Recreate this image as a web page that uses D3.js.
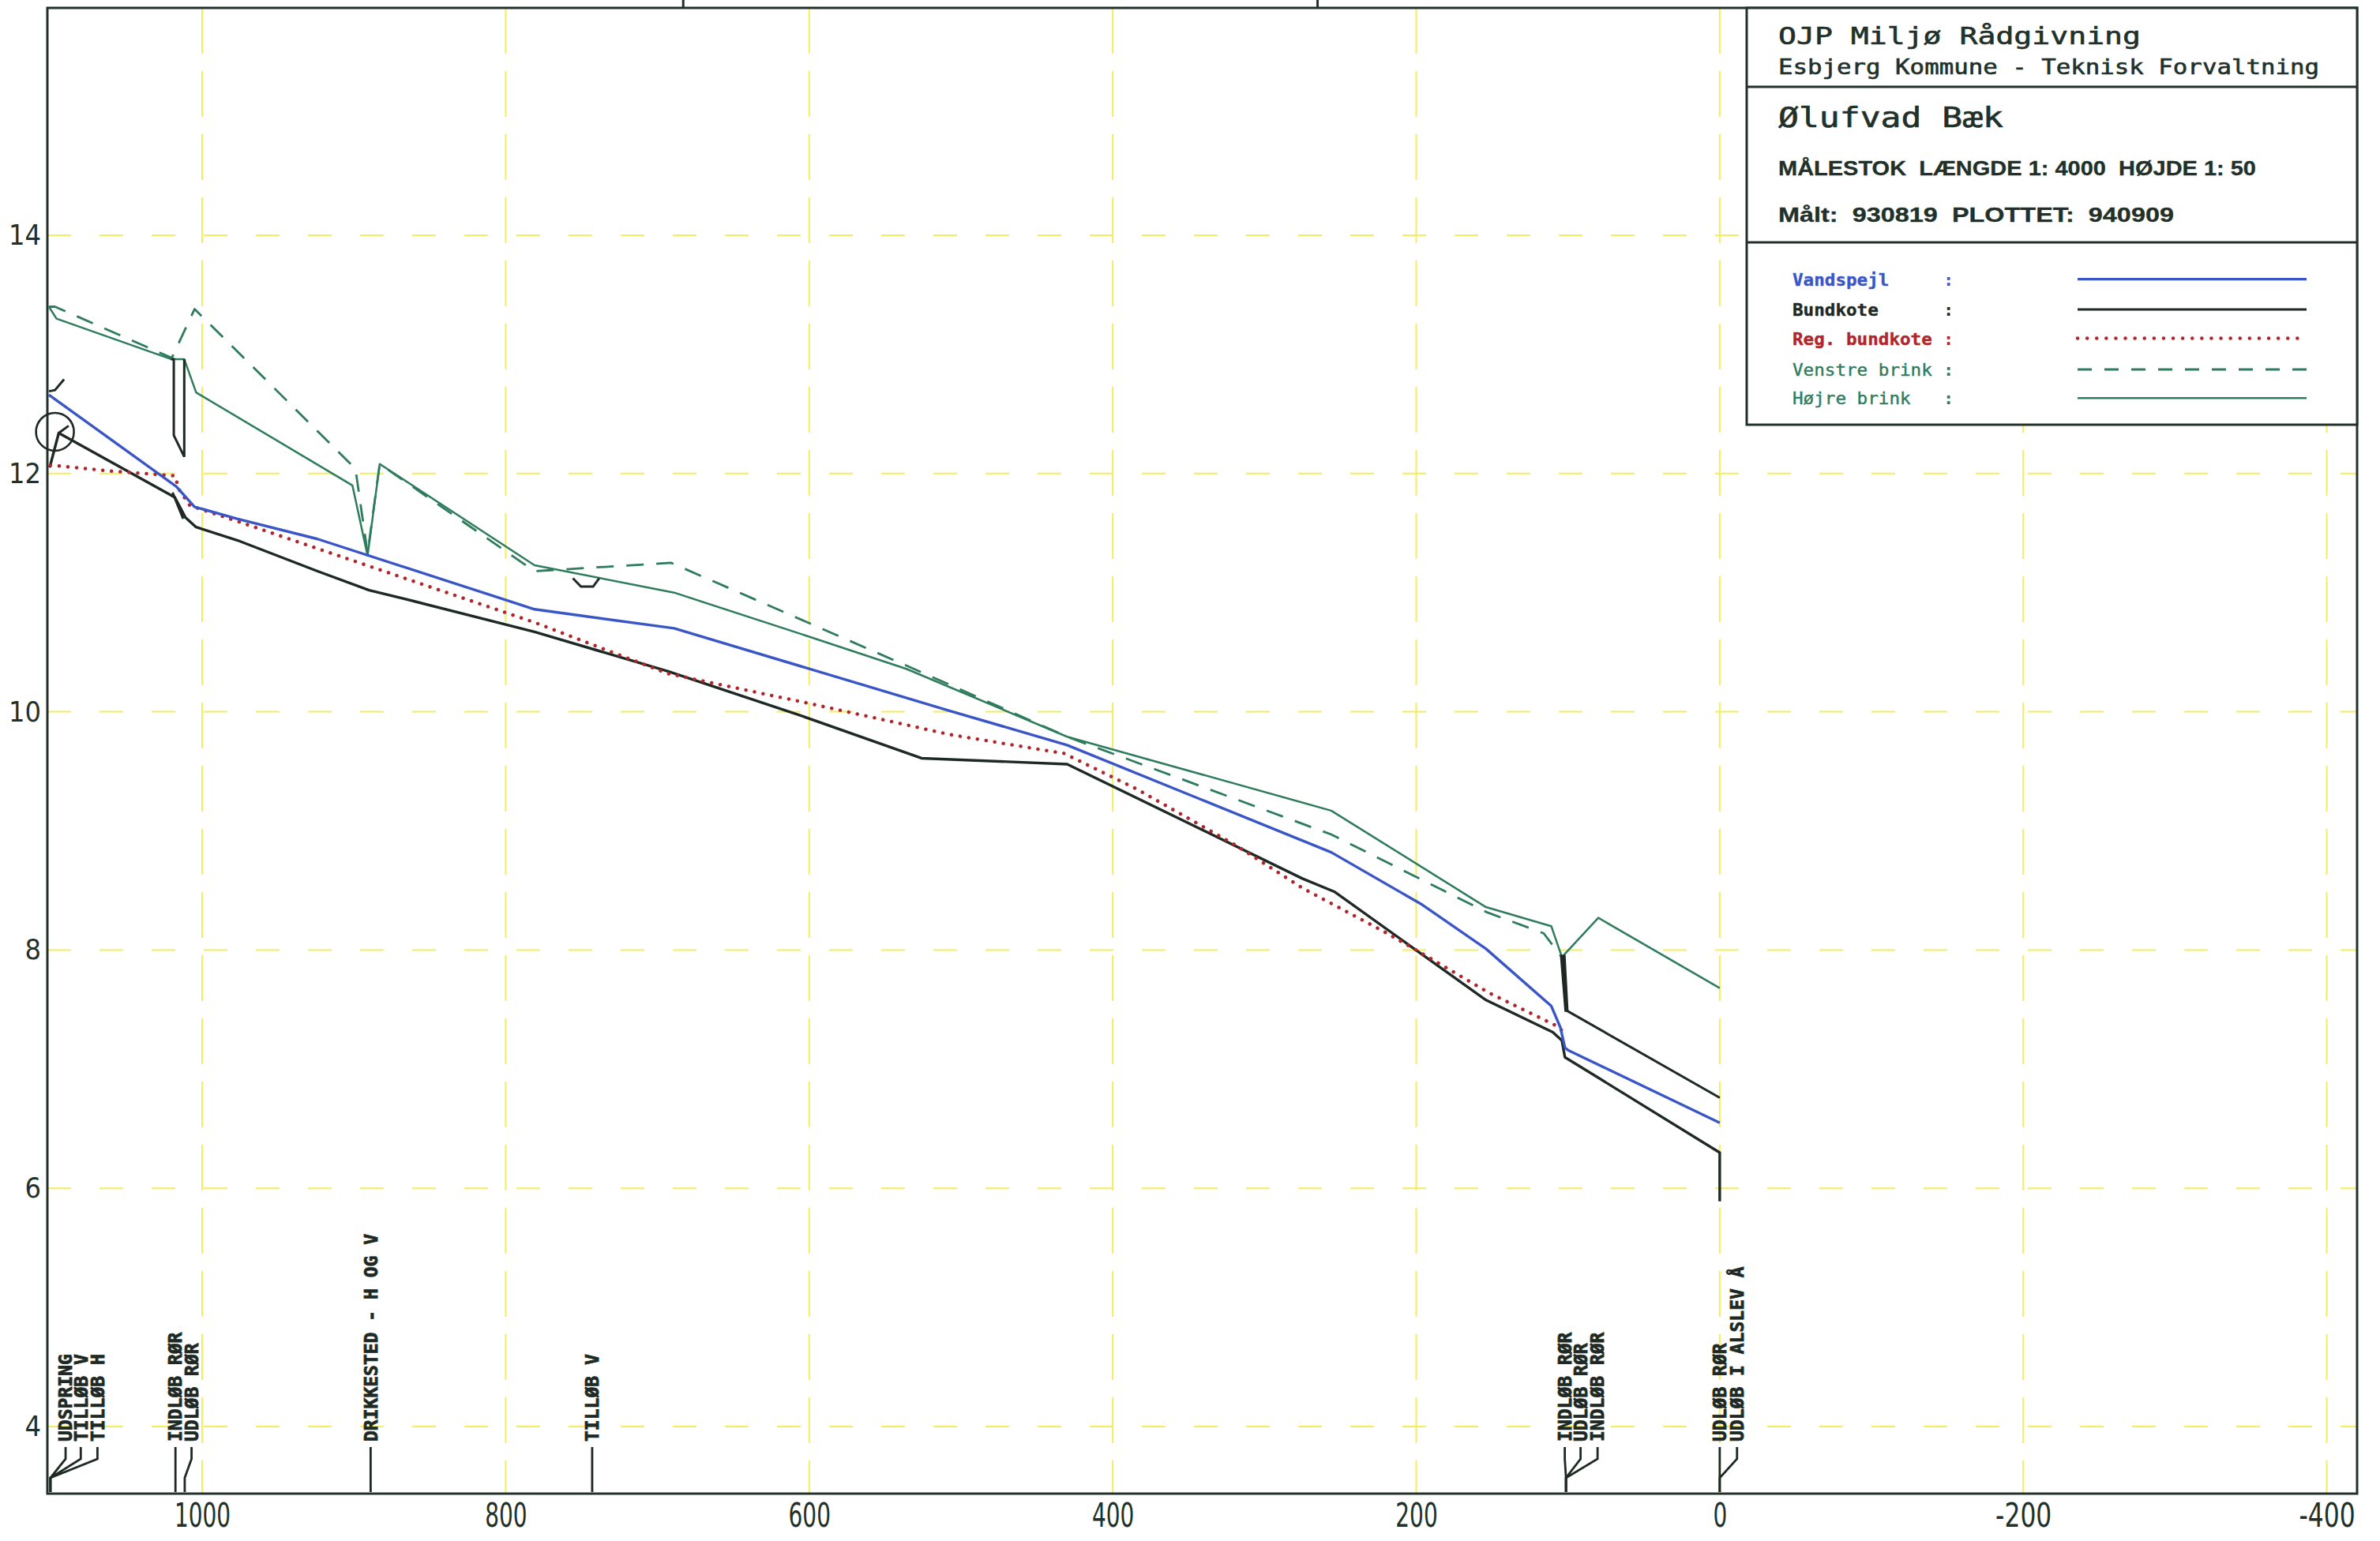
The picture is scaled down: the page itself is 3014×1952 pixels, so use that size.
<!DOCTYPE html>
<html><head><meta charset="utf-8">
<script src="https://cdn.jsdelivr.net/npm/d3@7"></script>
<style>
html,body{margin:0;padding:0;background:#fff;}
svg{display:block;}
text{white-space:pre;}
</style></head>
<body>
<svg id="c" width="3014" height="1952"></svg>
<script>
// ---------- data ----------
const xTicks = [1000, 800, 600, 400, 200, 0, -200, -400];
const yTicks = [14, 12, 10, 8, 6, 4];

const vandspejlX = [1101, 1017, 1005, 977, 924, 781, 689, 508, 430, 256, 196, 154, 111, 105, 102, 100, 0];
const vandspejlY = [12.66, 11.89, 11.72, 11.62, 11.45, 10.86, 10.70, 10.01, 9.72, 8.82, 8.38, 8.01, 7.53, 7.35, 7.18, 7.16, 6.55];

const bundkoteX = [1100.5, 1094.5, 1018, 1011, 1004, 977, 924, 890, 858, 781, 693, 606, 526, 430, 275, 254, 154, 110, 104, 102, 0, 0];
const bundkoteY = [12.05, 12.34, 11.80, 11.63, 11.55, 11.44, 11.18, 11.02, 10.92, 10.67, 10.34, 9.97, 9.61, 9.56, 8.60, 8.49, 7.58, 7.31, 7.24, 7.10, 6.30, 5.89];

const regBundX = [1100, 1060, 1018, 1015, 1008, 977, 924, 781, 693, 600, 536, 508, 432, 384, 319, 275, 222, 200, 152, 107, 102];
const regBundY = [12.07, 12.02, 11.98, 11.86, 11.73, 11.60, 11.37, 10.75, 10.32, 10.07, 9.89, 9.81, 9.65, 9.35, 8.88, 8.52, 8.16, 8.00, 7.64, 7.36, 7.30];

const venstreX = [1101, 1097, 1020, 1005, 899, 891, 883, 781, 691, 540, 508, 430, 256, 154, 116, 104];
const venstreY = [13.40, 13.40, 12.97, 13.38, 12.04, 11.33, 12.08, 11.18, 11.25, 10.41, 10.23, 9.79, 8.97, 8.32, 8.14, 7.94];

const hojreX = [1101, 1096, 1020.5, 1011.8, 1004, 901, 891, 883, 781, 689, 600, 536, 430, 256, 154, 111, 104, 80, 0];
const hojreY = [13.40, 13.30, 12.96, 12.96, 12.68, 11.90, 11.31, 12.08, 11.23, 11.00, 10.63, 10.36, 9.79, 9.17, 8.36, 8.20, 7.94, 8.27, 7.68];

// culvert / structure symbols
const pipeAX = [1020.5, 1018.7, 1018.7, 1011.8, 1011.8];
const pipeAY = [12.96, 12.96, 12.32, 12.14, 12.96];
const pipeBX = [1019.5, 1012.5];
const pipeBY = [11.84, 11.62];
const pipeCX = [104.5, 102.3, 100.4, 101.6];
const pipeCY = [7.95, 7.95, 7.49, 7.49];
const pipeDX = [100.6, 0];
const pipeDY = [7.49, 6.76];
const hookX = [1101, 1097, 1091];
const hookY = [12.69, 12.70, 12.79];
const sourceTickX = [1094.5, 1088];
const sourceTickY = [12.34, 12.40];
const notchX = [755.7, 750.4, 742.4, 738.4];
const notchY = [11.12, 11.05, 11.05, 11.12];
const sourceCircleX = [1097];
const sourceCircleY = [12.35];

const markerLabels = ["UDSPRING", "TILLØB V", "TILLØB H", "INDLØB RØR", "UDLØB RØR", "DRIKKESTED - H OG V", "TILLØB V", "INDLØB RØR", "UDLØB RØR", "INDLØB RØR", "UDLØB RØR", "UDLØB I ALSLEV Å"];
const markerTextX = [1090, 1080, 1069, 1017.6, 1007, 889, 743, 102.1, 91.7, 80.5, 0, -11.4];
const markerBaseX = [1100, 1100, 1100, 1017.6, 1011.5, 889, 743, 101.3, 101.3, 101.3, 0, 0];

const sheetMarks = [683, 265];

const legendNames = ["Vandspejl", "Bundkote", "Reg. bundkote", "Venstre brink", "Højre brink"];

// ---------- styles ----------
const C = {
  dark: "#22302a", blue: "#3a56c6", black: "#1e2924", red: "#b0262a",
  green: "#2e7c5d", grid: "#f2ee5e"
};

const svg = d3.select("#c");
const L = 60, R = 2985, T = 10, B = 1892;
const x = d3.scaleLinear().domain([1102, -420]).range([L, R]);
const y = d3.scaleLinear().domain([3.437, 15.908]).range([B, T]);
const zip = (xs, ys) => xs.map((v, i) => [v, ys[i]]);
const line = d3.line().x(d => x(d[0])).y(d => y(d[1]));

svg.append("rect").attr("width", 3014).attr("height", 1952).attr("fill", "#fff");

// grid
const grid = svg.append("g");
grid.selectAll(".gv").data(xTicks).join("line")
  .attr("x1", d => x(d)).attr("x2", d => x(d)).attr("y1", T).attr("y2", B)
  .attr("stroke", C.grid).attr("stroke-width", 2).attr("stroke-dasharray", "58,22");
grid.selectAll(".gh").data(yTicks).join("line")
  .attr("y1", d => y(d)).attr("y2", d => y(d)).attr("x1", L).attr("x2", R)
  .attr("stroke", C.grid).attr("stroke-width", 2).attr("stroke-dasharray", "30,36");

// axes labels
const ax = svg.append("g").attr("transform", `translate(0,${B})`)
  .call(d3.axisBottom(x).tickValues(xTicks).tickSize(0).tickPadding(9).tickFormat(d => String(d)));
ax.select(".domain").remove();
ax.selectAll("text").attr("font-family", "DejaVu Sans, sans-serif").attr("font-size", 30)
  .attr("fill", C.dark).attr("transform", "scale(1,1.4)")
  .attr("textLength", d => String(d).length * 17.8).attr("lengthAdjust", "spacingAndGlyphs");

const ay = svg.append("g").attr("transform", `translate(${L - 4},0)`)
  .call(d3.axisLeft(y).tickValues(yTicks).tickSize(0).tickPadding(4).tickFormat(d => String(d)));
ay.select(".domain").remove();
ay.selectAll("text").attr("font-family", "DejaVu Sans, sans-serif").attr("font-size", 36)
  .attr("fill", C.dark)
  .attr("textLength", d => String(d).length * 20.5).attr("lengthAdjust", "spacingAndGlyphs");

// frame
svg.append("rect").attr("x", L).attr("y", T).attr("width", R - L).attr("height", B - T)
  .attr("fill", "none").attr("stroke", C.dark).attr("stroke-width", 3);
svg.selectAll(".sm").data(sheetMarks).join("line")
  .attr("x1", d => x(d)).attr("x2", d => x(d)).attr("y1", 0).attr("y2", T)
  .attr("stroke", C.dark).attr("stroke-width", 3);

// series
const plot = svg.append("g").attr("fill", "none").attr("stroke-linejoin", "round");
plot.append("path").attr("d", line(zip(hojreX, hojreY))).attr("stroke", C.green).attr("stroke-width", 2.5);
plot.append("path").attr("d", line(zip(venstreX, venstreY))).attr("stroke", C.green).attr("stroke-width", 2.8)
  .attr("stroke-dasharray", "22,16");
plot.append("path").attr("d", line(zip(bundkoteX, bundkoteY))).attr("stroke", C.black).attr("stroke-width", 3.4);
plot.append("path").attr("d", line(zip(regBundX, regBundY))).attr("stroke", C.red).attr("stroke-width", 4.5)
  .attr("stroke-linecap", "round").attr("stroke-dasharray", "0.1,11");
plot.append("path").attr("d", line(zip(vandspejlX, vandspejlY))).attr("stroke", C.blue).attr("stroke-width", 3.4);

// structure symbols
const sym = svg.append("g").attr("fill", "none").attr("stroke", C.black).attr("stroke-width", 3);
[[pipeAX, pipeAY], [pipeBX, pipeBY], [pipeDX, pipeDY], [hookX, hookY], [sourceTickX, sourceTickY], [notchX, notchY]]
  .forEach(([xs, ys]) => sym.append("path").attr("d", line(zip(xs, ys))));
sym.append("path").attr("d", line(zip(pipeCX, pipeCY)) + "Z").attr("fill", C.black);
sym.selectAll("circle").data(zip(sourceCircleX, sourceCircleY)).join("circle")
  .attr("cx", d => x(d[0])).attr("cy", d => y(d[1])).attr("r", 24).attr("stroke-width", 2.6);

// station markers
const mk = svg.append("g");
const tBottom = 1826, tickTop = 1833, k1 = 1848, k2 = 1872, axisY = 1890;
markerLabels.forEach((lab, i) => {
  const tx = x(markerTextX[i]), bx = x(markerBaseX[i]);
  mk.append("text").attr("transform", `translate(${tx},${tBottom}) rotate(-90)`)
    .attr("dy", "0.36em").attr("font-family", "DejaVu Sans Mono, monospace").attr("font-weight", "bold")
    .attr("font-size", 23).attr("fill", C.black).attr("stroke", C.black).attr("stroke-width", 0.8)
    .text(lab);
  const p = (markerTextX[i] === markerBaseX[i])
    ? `M${tx},${tickTop}V${axisY}`
    : `M${tx},${tickTop}V${k1}L${bx},${k2}V${axisY}`;
  mk.append("path").attr("d", p).attr("fill", "none").attr("stroke", C.black).attr("stroke-width", 2.8);
});

// title box
const bx0 = 2212, bx1 = R;
const box = svg.append("g");
box.append("rect").attr("x", bx0).attr("y", T).attr("width", bx1 - bx0).attr("height", 538 - T)
  .attr("fill", "#fff").attr("stroke", C.dark).attr("stroke-width", 3);
[110, 307].forEach(yy => box.append("line").attr("x1", bx0).attr("x2", bx1).attr("y1", yy).attr("y2", yy)
  .attr("stroke", C.dark).attr("stroke-width", 3));

function tt(str, xx, yy, size, len, opts = {}) {
  return box.append("text").attr("x", xx).attr("y", yy).attr("font-size", size)
    .attr("font-family", opts.family || "DejaVu Sans Mono, monospace")
    .attr("font-weight", opts.weight || "normal").attr("fill", opts.fill || C.dark)
    .attr("stroke", opts.fill || C.dark).attr("stroke-width", opts.sw || 0.6)
    .attr("textLength", len).attr("lengthAdjust", "spacingAndGlyphs").text(str);
}
tt("OJP Miljø Rådgivning", 2252, 56, 30, 459);
tt("Esbjerg Kommune - Teknisk Forvaltning", 2252, 94, 27, 685);
tt("Ølufvad Bæk", 2252, 161, 35, 285);
tt("MÅLESTOK  LÆNGDE 1: 4000  HØJDE 1: 50", 2252, 222, 25, 605, {family: "Liberation Sans, Arial, sans-serif", weight: "bold", sw: 0.3});
tt("Målt:  930819  PLOTTET:  940909", 2252, 281, 25, 501, {family: "Liberation Sans, Arial, sans-serif", weight: "bold", sw: 0.3});

// legend
const legColors = [C.blue, C.black, C.red, C.green, C.green];
const legWeights = ["bold", "bold", "bold", "normal", "normal"];
const legY = [353.6, 392, 428.6, 468, 504.3];
legendNames.forEach((n, i) => {
  box.append("text").attr("x", 2270).attr("y", legY[i] + 8).attr("font-size", 22)
    .attr("font-family", "DejaVu Sans Mono, monospace").attr("font-weight", legWeights[i])
    .attr("fill", legColors[i]).attr("stroke", legColors[i]).attr("stroke-width", 0.4)
    .attr("textLength", n.length * 13.6).attr("lengthAdjust", "spacingAndGlyphs").text(n);
  box.append("text").attr("x", 2461).attr("y", legY[i] + 8).attr("font-size", 22)
    .attr("font-family", "DejaVu Sans Mono, monospace").attr("font-weight", "bold")
    .attr("fill", legColors[i]).text(":");
  const ln = box.append("line").attr("x1", 2631).attr("x2", 2921).attr("y1", legY[i]).attr("y2", legY[i])
    .attr("stroke", legColors[i]);
  if (i === 0) ln.attr("stroke-width", 3.4);
  if (i === 1) ln.attr("stroke-width", 3.2);
  if (i === 2) ln.attr("stroke-width", 4.5).attr("stroke-linecap", "round").attr("stroke-dasharray", "0.1,12");
  if (i === 3) ln.attr("stroke-width", 2.8).attr("stroke-dasharray", "18,16");
  if (i === 4) ln.attr("stroke-width", 2.5);
});
</script>
</body></html>
